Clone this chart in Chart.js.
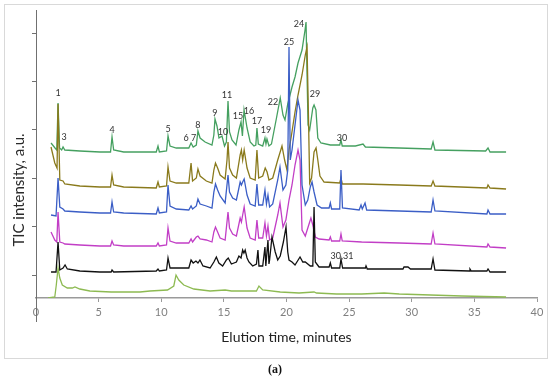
<!DOCTYPE html>
<html><head><meta charset="utf-8">
<script src="https://cdn.jsdelivr.net/npm/chart.js@4/dist/chart.umd.min.js"></script>
<style>html,body{margin:0;padding:0;background:#fff}#wrap{width:550px;height:378px;position:relative}</style>
</head><body><div id="wrap"><canvas id="c" width="550" height="378"></canvas></div>
<script>
// elution time (min), TIC intensity (a.u., offset traces)
const greenTrace = [[1.20,179],[1.52,174],[1.66,172],[1.76,219],[1.88,174],[2.05,172],[2.16,175],[2.30,172],[3.5,171],[5.11,170],[5.95,170],[6.07,185],[6.2,172],[7,170],[9.6,170],[9.74,176],[9.85,170],[10.42,171],[10.54,186],[10.7,176],[11.2,174],[12.2,174],[12.38,179],[12.55,175],[12.8,177],[12.93,191],[13.1,184],[13.5,180],[14.05,177],[14.2,187],[14.29,203],[14.45,196],[14.61,184],[14.85,186],[15.05,176],[15.2,180],[15.33,221],[15.45,190],[15.65,182],[15.97,177],[16.2,192],[16.37,200],[16.48,186],[16.61,212],[16.85,194],[17.1,180],[17.4,176],[17.55,177],[17.64,194],[17.75,178],[18.1,176],[18.28,184],[18.36,178],[18.44,183],[18.6,176],[18.8,178],[19.2,204],[19.5,224],[19.72,207],[19.88,202],[20.1,218],[20.44,235],[20.68,245],[20.92,259],[21.24,272],[21.48,292],[21.56,300],[21.72,197],[21.85,192],[22.1,214],[22.2,217],[22.35,212],[22.5,184],[22.75,179],[23.5,177],[24.25,177],[24.35,182],[24.45,176],[25.5,176],[26.11,178],[26.3,175],[29,174],[31.55,173],[31.7,180],[31.85,172],[35.9,171],[36.09,174],[36.25,170],[37.53,170]];
const oliveTrace = [[1.20,175],[1.5,159],[1.68,154],[1.76,218],[1.9,142],[2.16,141],[2.3,138],[3.5,136],[5.1,135],[5.95,135],[6.07,147],[6.2,137],[7,135],[9.6,134],[9.74,140],[9.85,135],[10.42,136],[10.54,155],[10.7,141],[11.2,139],[12.2,139],[12.38,159],[12.5,141],[12.8,144],[12.93,153],[13.1,146],[13.6,141],[14.05,139],[14.2,152],[14.33,159],[14.5,154],[14.7,147],[15.1,143],[15.25,162],[15.33,180],[15.45,154],[15.7,147],[16.0,144],[16.3,167],[16.4,172],[16.5,162],[16.62,172],[16.85,154],[17.1,144],[17.5,142],[17.64,172],[17.78,144],[18.1,146],[18.3,154],[18.45,150],[18.6,142],[18.9,144],[19.3,162],[19.64,176],[19.85,162],[20.04,152],[20.2,172],[20.4,187],[20.68,210],[20.92,227],[21.24,247],[21.5,267],[21.64,275],[21.76,202],[21.85,139],[22.0,144],[22.2,170],[22.36,174],[22.5,162],[22.67,146],[23.0,140],[24.25,139],[24.35,144],[24.45,138],[26.11,138],[29,137],[31.55,136],[31.7,141],[31.85,136],[36.0,134],[36.09,137],[36.25,134],[37.53,133]];
const blueTrace = [[1.20,107],[1.6,106],[1.76,144],[1.9,115],[2.16,113],[2.3,111],[3.5,110],[5.1,109],[5.95,109],[6.07,120],[6.2,110],[7,109],[9.6,108],[9.74,114],[9.85,109],[10.42,110],[10.54,137],[10.7,116],[11.2,113],[12.2,112],[12.38,116],[12.5,113],[12.8,116],[12.93,123],[13.1,118],[13.6,116],[14.05,114],[14.2,130],[14.33,138],[14.5,132],[14.7,126],[15.1,119],[15.33,147],[15.45,130],[15.7,124],[16.0,122],[16.3,140],[16.4,137],[16.5,140],[16.62,143],[16.85,127],[17.1,118],[17.5,116],[17.64,138],[17.78,117],[18.1,117],[18.28,132],[18.4,118],[18.52,127],[18.65,115],[18.9,118],[19.3,142],[19.48,155],[19.72,132],[19.95,137],[20.1,152],[20.2,275],[20.3,162],[20.44,172],[20.68,197],[20.92,222],[21.08,212],[21.24,137],[21.5,117],[21.7,122],[21.9,135],[22.04,140],[22.2,130],[22.44,117],[22.8,114],[23.4,114],[23.5,119],[23.6,113],[24.25,113],[24.35,152],[24.47,114],[25.8,112],[25.95,117],[26.05,113],[26.27,119],[26.4,112],[29,111],[31.55,110],[31.7,122],[31.85,111],[36.0,108],[36.09,112],[36.25,108],[37.53,108]];
const magentaTrace = [[1.20,90],[1.5,82],[1.66,80],[1.76,110],[1.9,80],[2.16,79],[2.3,78],[3.5,77],[5.1,76],[5.95,76],[6.07,81],[6.2,77],[7,76],[9.6,76],[9.74,79],[9.85,76],[10.42,77],[10.54,94],[10.7,81],[11.2,79],[12.2,79],[12.38,83],[12.5,80],[12.8,85],[12.93,86],[13.1,83],[13.6,82],[14.05,80],[14.2,90],[14.33,95],[14.5,90],[14.7,84],[15.1,82],[15.33,110],[15.45,94],[15.7,88],[16.0,86],[16.3,104],[16.4,100],[16.5,107],[16.62,115],[16.85,94],[17.1,84],[17.5,82],[17.64,102],[17.78,84],[18.1,84],[18.28,99],[18.4,86],[18.52,96],[18.65,82],[18.9,84],[19.3,107],[19.48,119],[19.72,95],[19.95,102],[20.2,122],[20.44,137],[20.68,157],[20.92,172],[21.08,162],[21.24,92],[21.5,86],[21.85,100],[21.95,104],[22.1,97],[22.3,85],[22.6,83],[23.4,82],[23.5,85],[23.6,81],[24.25,81],[24.35,88],[24.45,81],[26,80],[29,79],[31.55,78],[31.7,89],[31.85,78],[36.0,75],[36.09,78],[36.25,75],[37.53,74]];
const blackTrace = [[1.20,50],[1.6,50],[1.76,80],[1.9,52],[2.16,54],[2.32,57],[2.5,53],[3.5,51],[5.1,50],[6.0,50],[6.07,52],[6.2,50],[9.6,51],[9.74,53],[9.85,51],[10.42,52],[10.54,64],[10.7,54],[12.2,54],[12.38,62],[12.55,59],[12.77,61],[12.93,59],[13.09,62],[13.33,56],[13.9,54],[14.2,60],[14.4,65],[14.6,59],[14.9,56],[15.2,62],[15.35,64],[15.6,58],[16.0,60],[16.2,66],[16.37,64],[16.5,72],[16.6,69],[16.7,72],[16.85,64],[17.0,60],[17.3,56],[17.6,58],[17.72,72],[17.8,56],[18.1,56],[18.28,75],[18.35,56],[18.52,82],[18.6,58],[18.65,62],[18.84,85],[19.1,70],[19.3,62],[19.5,66],[19.75,80],[19.96,95],[20.1,70],[20.2,62],[20.44,60],[20.68,57],[21.08,65],[21.3,60],[21.5,60],[21.9,56],[22.1,56],[22.2,115],[22.3,60],[22.6,55],[23.4,55],[23.5,59],[23.6,54],[24.25,54],[24.35,63],[24.48,54],[26.3,54],[26.35,56],[26.45,53],[29.3,53],[29.38,55],[29.7,55],[29.9,53],[31.55,53],[31.7,63],[31.85,52],[34.6,51],[34.65,53],[34.75,51],[36.0,51],[36.09,53],[36.25,50],[37.53,50]];
const lightGreenTrace = [[0.96,24],[1.5,25],[1.62,37],[1.76,54],[1.9,44],[2.1,37],[2.5,34],[2.9,34],[3.11,35],[3.5,33],[4.3,31],[6,30],[8.3,30],[9.1,31],[10.5,32],[11.0,36],[11.18,47],[11.4,42],[11.8,37],[12.6,33],[13.9,31],[15.1,32],[15.6,31],[17.6,31],[17.8,36],[18.1,32],[19.5,30],[21,29],[22.2,30],[22.4,29],[24,28],[26,28],[27.8,29],[29,28],[31.5,27],[34,26],[37.53,25]];
// peak numbers: [text, time, intensity]
const peakLabels = [["1",1.76,229],["3",2.24,185],["4",6.07,192],["5",10.54,193],["6",11.98,184],["7",12.58,184],["8",12.93,197],["9",14.29,209],["10",14.93,190],["11",15.25,227],["15",16.13,206],["16",17.0,211],["17",17.64,201],["19",18.36,192],["22",18.92,220],["24",21.0,298],["25",20.2,280],["29",22.28,228],["30",24.43,184],["30,31",24.43,66]];
const xTickStep = 5;
const yTickValues = [47, 95.4, 143.8, 192.2, 240.6, 289];
const yAxisLow = 0;   // y axis line runs below the time axis down to this value

const seriesDefs = [
  {pts: blueTrace, color: '#3b5ec6'},
  {pts: blackTrace, color: '#111111'},
  {pts: magentaTrace, color: '#c23ec6'},
  {pts: oliveTrace, color: '#8a7a1c'},
  {pts: greenTrace, color: '#45a060'},
  {pts: lightGreenTrace, color: '#8dba52'}
];

const decor = {
  id: 'decor',
  beforeDraw(chart) {
    const c = chart.ctx; c.save();
    c.fillStyle = '#fff'; c.fillRect(0, 0, chart.width, chart.height);
    c.strokeStyle = '#d9d9d9'; c.lineWidth = 1; c.strokeRect(4.5, 4.5, 543, 354);
    c.restore();
  },
  afterDatasetsDraw(chart) {
    const c = chart.ctx, xs = chart.scales.x, ys = chart.scales.y;
    c.save();
    c.fillStyle = '#333'; c.font = '9px Lato'; c.textAlign = 'center'; c.textBaseline = 'middle';
    peakLabels.forEach(([t, x, y]) => c.fillText(t, xs.getPixelForValue(x), ys.getPixelForValue(y)));
    c.restore();
  },
  afterDraw(chart) {
    const c = chart.ctx, ys = chart.scales.y, a = chart.chartArea;
    c.save();
    c.strokeStyle = '#707070'; c.lineWidth = 1;
    c.beginPath(); c.moveTo(Math.round(a.left) + 0.5, a.bottom); c.lineTo(Math.round(a.left) + 0.5, ys.getPixelForValue(yAxisLow)); c.stroke();
    c.restore();
    c.save();
    c.fillStyle = '#2a2a2a'; c.font = '15px Lato'; c.textAlign = 'center'; c.textBaseline = 'middle';
    c.translate(19, 190); c.rotate(-Math.PI / 2); c.fillText('TIC intensity, a.u.', 0, 0);
    c.restore();
    c.save(); c.fillStyle = '#111'; c.font = 'bold 12px "Liberation Serif"'; c.textAlign = 'center'; c.textBaseline = 'middle';
    c.fillText('(a)', 275, 370); c.restore();
  }
};

new Chart(document.getElementById('c'), {
  type: 'line',
  data: {datasets: seriesDefs.map(s => ({
    data: s.pts.map(p => ({x: p[0], y: p[1]})),
    borderColor: s.color, borderWidth: 1.3, pointRadius: 0, tension: 0, fill: false
  }))},
  options: {
    responsive: false, animation: false,
    layout: {padding: {top: 10, right: 13, bottom: 24, left: 0}},
    plugins: {legend: {display: false}, tooltip: {enabled: false}},
    scales: {
      x: {
        type: 'linear', min: 0, max: 40, position: 'bottom',
        ticks: {stepSize: xTickStep, color: '#7f7f7f', font: {family: 'Lato', size: 11}, padding: 4, maxRotation: 0},
        grid: {drawOnChartArea: false, drawTicks: true, tickLength: 4, color: '#9a9a9a'},
        border: {color: '#9a9a9a', width: 1.5},
        title: {display: true, text: 'Elution time, minutes', color: '#222', font: {family: 'Lato', size: 14}, padding: {top: 4, bottom: 8}},
        afterFit: s => { s.height = 56; }
      },
      y: {
        type: 'linear', min: 24, max: 312,
        afterBuildTicks: s => { s.ticks = yTickValues.map(v => ({value: v})); },
        ticks: {display: false},
        grid: {drawOnChartArea: false, drawTicks: true, tickLength: 4, color: '#707070'},
        border: {color: '#707070', width: 1},
        afterFit: s => { s.width = 36; }
      }
    }
  },
  plugins: [decor]
});
</script></body></html>
